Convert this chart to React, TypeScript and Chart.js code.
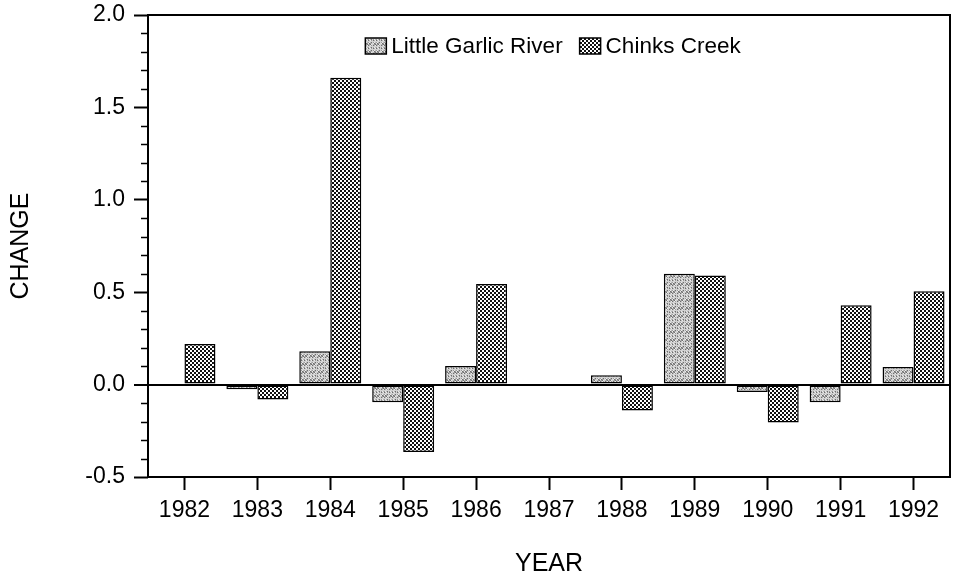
import React, { useEffect, useRef } from 'react';
import { Chart, registerables } from 'chart.js';

Chart.register(...registerables);

const YEARS = ['1982', '1983', '1984', '1985', '1986', '1987', '1988', '1989', '1990', '1991', '1992'];
const LITTLE_GARLIC_RIVER = [0, -0.025, 0.18, -0.095, 0.1, 0, 0.05, 0.6, -0.04, -0.095, 0.095];
const CHINKS_CREEK = [0.22, -0.08, 1.66, -0.365, 0.545, 0, -0.14, 0.59, -0.205, 0.43, 0.505];
const SERIES_NAMES = ['Little Garlic River', 'Chinks Creek'];
const Y_MIN = -0.5;
const Y_MAX = 2.0;
const Y_STEP = 0.5;
const Y_MINOR_STEP = 0.1;

const FONT = '"Liberation Sans", Arial, Helvetica, sans-serif';

function makeStipple(ctx: CanvasRenderingContext2D): CanvasPattern | string {
  const c = document.createElement('canvas');
  c.width = 8;
  c.height = 8;
  const g = c.getContext('2d');
  if (!g) return '#b8b8b8';
  const levels = [110, 155, 185, 210, 235];
  for (let y = 0; y < 8; y++) {
    for (let x = 0; x < 8; x++) {
      const l = levels[(x * 7 + y * 13 + x * y * 3) % 5];
      g.fillStyle = `rgb(${l},${l},${l})`;
      g.fillRect(x, y, 1, 1);
    }
  }
  return ctx.createPattern(c, 'repeat') || '#b8b8b8';
}

function makeChecker(ctx: CanvasRenderingContext2D): CanvasPattern | string {
  const c = document.createElement('canvas');
  c.width = 4;
  c.height = 4;
  const g = c.getContext('2d');
  if (!g) return '#777';
  g.fillStyle = '#111';
  g.fillRect(0, 0, 4, 4);
  g.fillStyle = '#fff';
  g.fillRect(0, 0, 2, 2);
  g.fillRect(2, 2, 2, 2);
  return ctx.createPattern(c, 'repeat') || '#777';
}

const framePlugin = {
  id: 'frame',
  afterDraw(chart: any) {
    const { ctx, chartArea: a, scales } = chart;
    const y = scales.y;
    ctx.save();
    ctx.strokeStyle = '#000';
    ctx.lineWidth = 2;
    ctx.strokeRect(a.left, a.top, a.right - a.left, a.bottom - a.top);
    ctx.lineWidth = 1.5;
    const n = Math.round((Y_MAX - Y_MIN) / Y_MINOR_STEP);
    for (let i = 0; i <= n; i++) {
      const v = Y_MIN + i * Y_MINOR_STEP;
      const r = Math.abs(v / Y_STEP - Math.round(v / Y_STEP));
      if (r < 1e-6) continue;
      const py = Math.round(y.getPixelForValue(v)) + 0.5;
      ctx.beginPath();
      ctx.moveTo(a.left - 7, py);
      ctx.lineTo(a.left, py);
      ctx.stroke();
    }

    // legend inside the plot area, top centre
    const boxW = 21;
    const boxH = 16;
    const textGap = 5;
    const itemGap = 17;
    const fontSize = 22.5;
    ctx.font = `${fontSize}px ${FONT}`;
    const items = chart.data.datasets.map((d: any) => ({
      label: d.label,
      fill: d.backgroundColor,
      w: boxW + textGap + ctx.measureText(d.label).width,
    }));
    const total = items.reduce((s: number, it: any) => s + it.w, 0) + itemGap * (items.length - 1);
    let x = (a.left + a.right) / 2 + 4 - total / 2;
    const cy = a.top + 31;
    ctx.textBaseline = 'middle';
    ctx.textAlign = 'left';
    for (const it of items) {
      ctx.fillStyle = it.fill;
      ctx.fillRect(x, cy - boxH / 2, boxW, boxH);
      ctx.lineWidth = 1.5;
      ctx.strokeStyle = '#000';
      ctx.strokeRect(x, cy - boxH / 2, boxW, boxH);
      ctx.fillStyle = '#000';
      ctx.fillText(it.label, x + boxW + textGap, cy + 1);
      x += it.w + itemGap;
    }
    ctx.restore();
  },
};

export default function App() {
  const ref = useRef<HTMLCanvasElement | null>(null);

  useEffect(() => {
    const canvas = ref.current;
    if (!canvas) return;
    const ctx = canvas.getContext('2d');
    if (!ctx) return;
    const stipple = makeStipple(ctx);
    const checker = makeChecker(ctx);

    const chart = new Chart(ctx, {
      type: 'bar',
      data: {
        labels: YEARS,
        datasets: [
          {
            label: SERIES_NAMES[0],
            data: LITTLE_GARLIC_RIVER,
            backgroundColor: stipple as any,
            borderColor: '#000',
            borderWidth: 1.5,
            borderSkipped: false,
            categoryPercentage: 0.85,
            barPercentage: 1.0,
          },
          {
            label: SERIES_NAMES[1],
            data: CHINKS_CREEK,
            backgroundColor: checker as any,
            borderColor: '#000',
            borderWidth: 1.5,
            borderSkipped: false,
            categoryPercentage: 0.85,
            barPercentage: 1.0,
          },
        ],
      },
      options: {
        responsive: false,
        animation: false,
        devicePixelRatio: 1,
        layout: { padding: { top: 15, right: 3, left: 0, bottom: 0 } },
        plugins: {
          tooltip: { enabled: false },
          legend: { display: false },
        },
        scales: {
          x: {
            grid: {
              offset: false,
              drawOnChartArea: false,
              drawTicks: true,
              tickLength: 13,
              tickWidth: 2,
              tickColor: '#000',
            },
            border: { display: false },
            ticks: {
              color: '#000',
              font: { family: FONT, size: 23 },
              padding: 7,
              maxRotation: 0,
              autoSkip: false,
            },
            title: {
              display: true,
              text: 'YEAR',
              color: '#000',
              font: { family: FONT, size: 25, lineHeight: 1 },
              padding: { top: 0, bottom: 0 },
            },
            afterFit(scale: any) {
              scale.height = 100;
              scale.paddingLeft = 0;
              scale.paddingRight = 0;
            },
          },
          y: {
            min: Y_MIN,
            max: Y_MAX,
            grid: {
              drawOnChartArea: true,
              drawTicks: true,
              tickLength: 14,
              tickWidth: 2,
              tickColor: '#000',
              color: (c: any) => (c.tick && Math.abs(c.tick.value) < 1e-9 ? '#000' : 'rgba(0,0,0,0)'),
              lineWidth: (c: any) => (c.tick && Math.abs(c.tick.value) < 1e-9 ? 2 : 1),
            },
            border: { display: false },
            ticks: {
              stepSize: Y_STEP,
              color: '#000',
              font: { family: FONT, size: 23 },
              padding: 9,
              callback: (v: any) => Number(v).toFixed(1),
            },
            title: {
              display: true,
              text: 'CHANGE',
              color: '#000',
              font: { family: FONT, size: 25 },
              padding: { top: 6, bottom: 0 },
            },
            afterFit(scale: any) {
              scale.width = 148;
              scale.paddingTop = 0;
              scale.paddingBottom = 0;
            },
          },
        },
      },
      plugins: [framePlugin],
    });

    return () => {
      chart.destroy();
    };
  }, []);

  return (
    <div style={{ position: 'absolute', left: 0, top: 0, width: 953, height: 577, background: '#fff' }}>
      <canvas ref={ref} width={953} height={577} style={{ display: 'block', width: 953, height: 577 }} />
    </div>
  );
}
